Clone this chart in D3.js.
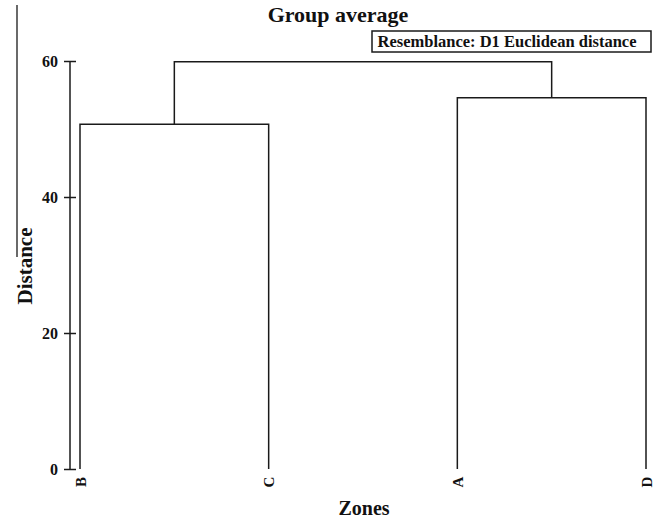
<!DOCTYPE html>
<html>
<head>
<meta charset="utf-8">
<script src="https://cdn.jsdelivr.net/npm/d3@7"></script>
<style>
  body { margin: 0; background: #fff; }
  text { font-family: "Liberation Serif", "Times New Roman", serif; font-weight: bold; fill: #111; }
</style>
</head>
<body>
<svg id="chart" width="657" height="519"></svg>
<script>
'use strict';

// dendrogram data: leaf order and the joins (group average, Euclidean distance)
var leafNames = ['B', 'C', 'A', 'D'];
var joinPairs = [['B', 'C'], ['A', 'D'], ['BC', 'AD']];
var joinNames = ['BC', 'AD', 'BCAD'];
var joinHeights = [50.7, 54.6, 59.9];
var yTicks = [0, 20, 40, 60];

var svg = d3.select('#chart');
var ink = '#1a1a1a';

var x = d3.scalePoint().domain(leafNames).range([80, 646]);
var y = d3.scaleLinear().domain([0, 60]).range([469, 61]);

// node positions
var pos = {};
leafNames.forEach(function(n) {
    pos[n] = { x: x(n), h: 0 };
});
joinNames.forEach(function(n, i) {
    var a = pos[joinPairs[i][0]], b = pos[joinPairs[i][1]];
    pos[n] = { x: (a.x + b.x) / 2, h: joinHeights[i] };
});

// stray page edge line from the scan
svg.append('line')
    .attr('x1', 17).attr('x2', 17)
    .attr('y1', 5).attr('y2', 257)
    .attr('stroke', ink).attr('stroke-width', 1.3);

// y axis
var axis = svg.append('g').attr('transform', 'translate(70,0)')
    .call(d3.axisLeft(y).tickValues(yTicks).tickSize(6).tickPadding(6));
axis.select('.domain').remove();
axis.append('line')
    .attr('y1', y(0)).attr('y2', y(60))
    .attr('stroke', ink).attr('stroke-width', 1.5);
axis.selectAll('.tick line')
    .attr('x1', -6).attr('x2', 6)
    .attr('stroke', ink).attr('stroke-width', 1.5);
axis.selectAll('.tick text')
    .attr('font-size', 16)
    .attr('font-family', '"Liberation Serif", serif')
    .attr('font-weight', 'bold')
    .attr('fill', '#111')
    .attr('x', -12)
    .attr('dy', '0.35em');

// joins
svg.append('g').selectAll('path')
    .data(joinNames)
    .enter().append('path')
    .attr('d', function(n, i) {
        var a = pos[joinPairs[i][0]], b = pos[joinPairs[i][1]];
        return 'M' + a.x + ',' + y(a.h) + 'V' + y(joinHeights[i]) +
            'H' + b.x + 'V' + y(b.h);
    })
    .attr('fill', 'none')
    .attr('stroke', ink)
    .attr('stroke-width', 1.5);

// leaf labels
svg.append('g').selectAll('text')
    .data(leafNames)
    .enter().append('text')
    .attr('transform', function(n) {
        return 'translate(' + (x(n) + 5.5) + ',482) rotate(-90)';
    })
    .attr('text-anchor', 'middle')
    .attr('font-size', 15)
    .text(function(n) { return n; });

// titles
svg.append('text')
    .attr('x', 338).attr('y', 22)
    .attr('text-anchor', 'middle')
    .attr('font-size', 22)
    .text('Group average');

svg.append('rect')
    .attr('x', 372).attr('y', 31)
    .attr('width', 279).attr('height', 21)
    .attr('fill', '#fff')
    .attr('stroke', ink).attr('stroke-width', 1.5);
svg.append('text')
    .attr('x', 507).attr('y', 47)
    .attr('text-anchor', 'middle')
    .attr('font-size', 16.5)
    .text('Resemblance: D1 Euclidean distance');

svg.append('text')
    .attr('transform', 'translate(32,266) rotate(-90)')
    .attr('text-anchor', 'middle')
    .attr('font-size', 21)
    .text('Distance');

svg.append('text')
    .attr('x', 364).attr('y', 515)
    .attr('text-anchor', 'middle')
    .attr('font-size', 20)
    .text('Zones');
</script>
</body>
</html>
